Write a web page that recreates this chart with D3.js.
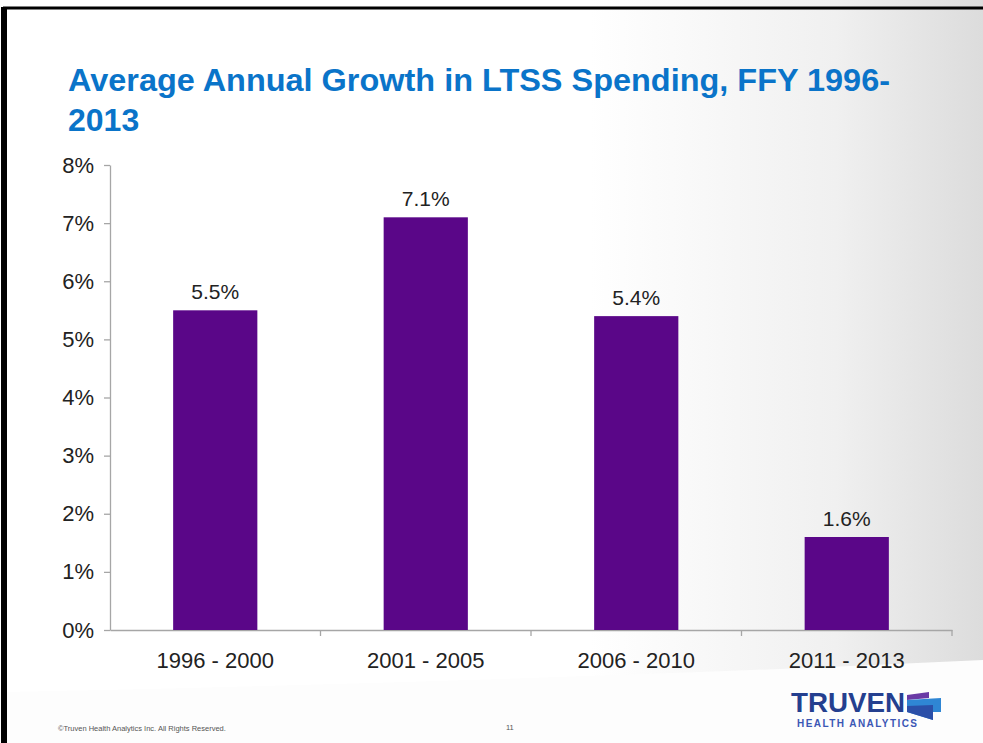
<!DOCTYPE html>
<html>
<head>
<meta charset="utf-8">
<script src="https://cdn.jsdelivr.net/npm/d3@7"></script>
<style>
  body { margin: 0; background: #fff; }
  svg { display: block; font-family: "Liberation Sans", Arial, sans-serif; }
</style>
</head>
<body>
<div id="chart"></div>
<script>
// data
let categories = ["1996 - 2000", "2001 - 2005", "2006 - 2010", "2011 - 2013"];
let growth = [0.055, 0.071, 0.054, 0.016];
let valueLabels = ["5.5%", "7.1%", "5.4%", "1.6%"];
let yTicks = [0, 0.01, 0.02, 0.03, 0.04, 0.05, 0.06, 0.07, 0.08];
let titleLines = ["Average Annual  Growth in LTSS Spending, FFY 1996-", "2013"];

let svgWidth = 983;
let svgHeight = 743;

let margin = { top: 165, right: 31, bottom: 113, left: 110 };
let width = svgWidth - margin.left - margin.right;
let height = svgHeight - margin.top - margin.bottom;

let svg = d3.select("#chart")
  .append("svg")
  .attr("width", svgWidth)
  .attr("height", svgHeight);

// slide background: grey fade on the right, white swoosh at the bottom
let defs = svg.append("defs");
let grad = defs.append("linearGradient")
  .attr("id", "fade")
  .attr("x1", "0").attr("y1", "0").attr("x2", "1").attr("y2", "0");
grad.append("stop").attr("offset", "0.6").attr("stop-color", "#ffffff");
grad.append("stop").attr("offset", "0.85").attr("stop-color", "#f0f0f0");
grad.append("stop").attr("offset", "1").attr("stop-color", "#dcdcdc");

svg.append("rect")
  .attr("width", svgWidth).attr("height", svgHeight)
  .attr("fill", "#fff");
svg.append("rect")
  .attr("width", svgWidth).attr("height", svgHeight)
  .attr("fill", "url(#fade)");
svg.append("path")
  .attr("d", "M0,692 C300,686 650,676 983,660 L983,743 L0,743 Z")
  .attr("fill", "#fdfdfd");

// frame lines
svg.append("line")
  .attr("x1", 3).attr("x2", svgWidth).attr("y1", 8).attr("y2", 8)
  .attr("stroke", "#000").attr("stroke-width", 3);
svg.append("line")
  .attr("x1", 4).attr("x2", 4).attr("y1", 7).attr("y2", svgHeight)
  .attr("stroke", "#000").attr("stroke-width", 6);

// title
svg.append("g")
  .selectAll("text")
  .data(titleLines)
  .enter()
  .append("text")
  .attr("x", 68)
  .attr("y", (d, i) => 91 + i * 40)
  .attr("font-size", "32px")
  .attr("font-weight", "bold")
  .attr("fill", "#0a74c9")
  .attr("textLength", (d, i) => i === 0 ? 822 : null)
  .attr("lengthAdjust", "spacingAndGlyphs")
  .text(d => d);

let chartGroup = svg.append("g")
  .attr("transform", `translate(${margin.left}, ${margin.top})`);

let x = d3.scaleBand()
  .domain(categories)
  .range([0, width])
  .padding(0);

let y = d3.scaleLinear()
  .domain([0, 0.08])
  .range([height, 0]);

let leftAxis = d3.axisLeft(y)
  .tickValues(yTicks)
  .tickFormat(d3.format(".0%"))
  .tickSize(6)
  .tickSizeOuter(0)
  .tickPadding(10);

let bottomAxis = d3.axisBottom(x)
  .tickSize(0)
  .tickSizeOuter(0)
  .tickPadding(22);

let yAxisG = chartGroup.append("g").call(leftAxis);
let xAxisG = chartGroup.append("g")
  .attr("transform", `translate(0, ${height})`)
  .call(bottomAxis);

[yAxisG, xAxisG].forEach(g => {
  g.selectAll("path, line").attr("stroke", "#a6a6a6").attr("stroke-width", 1.3);
  g.selectAll("text")
    .attr("font-family", "'Liberation Sans', Arial, sans-serif")
    .attr("fill", "#222");
});
yAxisG.selectAll("text").attr("font-size", "22px");
xAxisG.selectAll("text").attr("font-size", "22px");

// boundary ticks between categories
chartGroup.append("g")
  .selectAll("line")
  .data(categories)
  .enter()
  .append("line")
  .attr("x1", d => x(d) + x.bandwidth())
  .attr("x2", d => x(d) + x.bandwidth())
  .attr("y1", height)
  .attr("y2", height + 6)
  .attr("stroke", "#a6a6a6")
  .attr("stroke-width", 1.3);

let barW = x.bandwidth() * 0.4;

chartGroup.selectAll(".bar")
  .data(growth)
  .enter()
  .append("rect")
  .attr("class", "bar")
  .attr("x", (d, i) => x(categories[i]) + (x.bandwidth() - barW) / 2)
  .attr("y", d => y(d))
  .attr("width", barW)
  .attr("height", d => height - y(d))
  .attr("fill", "#5a0688");

chartGroup.selectAll(".val")
  .data(growth)
  .enter()
  .append("text")
  .attr("class", "val")
  .attr("x", (d, i) => x(categories[i]) + x.bandwidth() / 2)
  .attr("y", d => y(d) - 11)
  .attr("text-anchor", "middle")
  .attr("font-size", "21px")
  .attr("fill", "#222")
  .text((d, i) => valueLabels[i]);

// footer
svg.append("text")
  .attr("x", 58).attr("y", 731)
  .attr("font-size", "7.5px")
  .attr("fill", "#555")
  .text("©Truven Health Analytics Inc. All Rights Reserved.");
svg.append("text")
  .attr("x", 506).attr("y", 730)
  .attr("font-size", "7.5px")
  .attr("fill", "#555")
  .text("11");

// logo
let logo = svg.append("g");
logo.append("text")
  .attr("x", 791).attr("y", 712)
  .attr("font-size", "28px")
  .attr("font-weight", "bold")
  .attr("fill", "#243f8f")
  .attr("textLength", 114)
  .attr("lengthAdjust", "spacingAndGlyphs")
  .text("TRUVEN");
logo.append("text")
  .attr("x", 797).attr("y", 727)
  .attr("font-size", "10px")
  .attr("font-weight", "bold")
  .attr("fill", "#3b57b5")
  .attr("textLength", 120)
  .attr("lengthAdjust", "spacing")
  .text("HEALTH ANALYTICS");
logo.append("path")
  .attr("d", "M907,695 L929,692 L929,698 L907,700 Z")
  .attr("fill", "#6a3aa5");
logo.append("path")
  .attr("d", "M907,700 L941,698 L941,712 L933,712 L933,720 L907,712 Z")
  .attr("fill", "#2f86d4");
logo.append("path")
  .attr("d", "M907,706 L933,705 L933,720 L907,712 Z")
  .attr("fill", "#2b4fa8");
</script>
</body>
</html>
